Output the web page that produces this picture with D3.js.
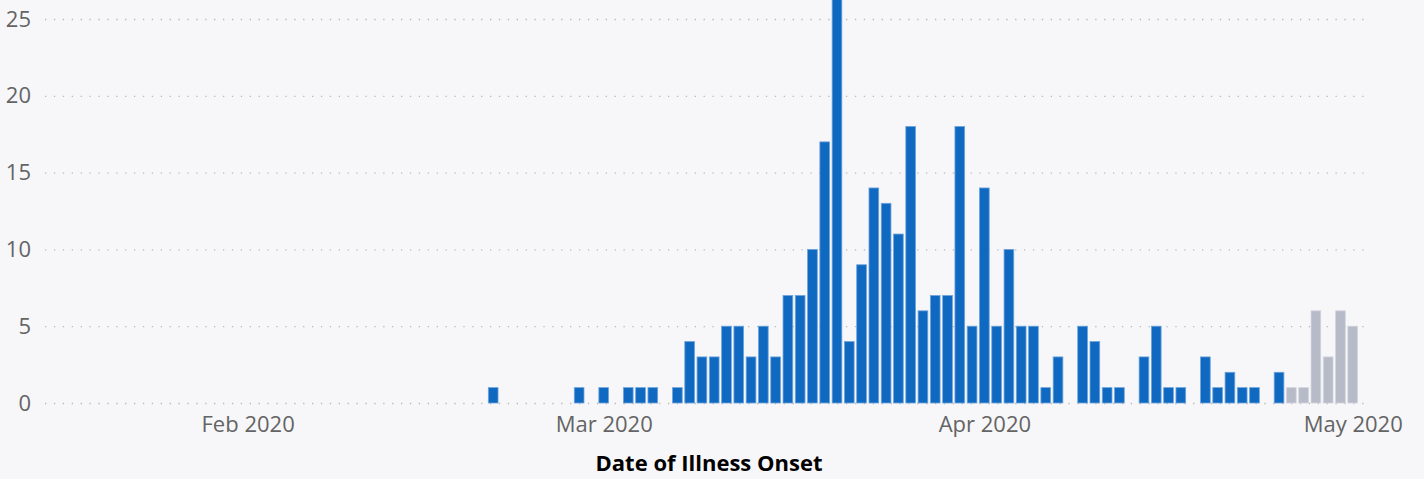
<!DOCTYPE html>
<meta charset="utf-8">
<style>
  body { margin: 0; background: #f7f7fa; overflow: hidden; }
  svg { display: block; }
  .tick text { font-family: "Open Sans", sans-serif; font-size: 22px; fill: #646464; }
  .title { font-family: "Open Sans", sans-serif; font-size: 22px; font-weight: bold; fill: #000; }
</style>
<body>
<div id="chart"></div>
<script src="https://cdn.jsdelivr.net/npm/d3@7"></script>
<script>
    // daily case counts by date of illness onset
    const confirmedDates = ["2020-02-21", "2020-02-28", "2020-03-01", "2020-03-03", "2020-03-04", "2020-03-05",
        "2020-03-07", "2020-03-08", "2020-03-09", "2020-03-10", "2020-03-11", "2020-03-12", "2020-03-13",
        "2020-03-14", "2020-03-15", "2020-03-16", "2020-03-17", "2020-03-18", "2020-03-19", "2020-03-20",
        "2020-03-21", "2020-03-22", "2020-03-23", "2020-03-24", "2020-03-25", "2020-03-26", "2020-03-27",
        "2020-03-28", "2020-03-29", "2020-03-30", "2020-03-31", "2020-04-01", "2020-04-02", "2020-04-03",
        "2020-04-04", "2020-04-05", "2020-04-06", "2020-04-07", "2020-04-09", "2020-04-10", "2020-04-11",
        "2020-04-12", "2020-04-14", "2020-04-15", "2020-04-16", "2020-04-17", "2020-04-19", "2020-04-20",
        "2020-04-21", "2020-04-22", "2020-04-23", "2020-04-25"];
    const confirmedCounts = [1, 1, 1, 1, 1, 1,
        1, 4, 3, 3, 5, 5, 3,
        5, 3, 7, 7, 10, 17, 28,
        4, 9, 14, 13, 11, 18, 6,
        7, 7, 18, 5, 14, 5, 10,
        5, 5, 1, 3, 5, 4, 1,
        1, 3, 5, 1, 1, 3, 1,
        2, 1, 1, 2];
    // recent days, still incomplete (grey)
    const pendingDates = ["2020-04-26", "2020-04-27", "2020-04-28", "2020-04-29", "2020-04-30", "2020-05-01"];
    const pendingCounts = [1, 1, 6, 3, 6, 5];

    const yTicks = [0, 5, 10, 15, 20, 25];
    const xTicks = ["2020-02-01", "2020-03-01", "2020-04-01", "2020-05-01"];

    const width = 1424, height = 479;
    const margin = {top: 19, right: 59, bottom: 76, left: 45};
    const parse = d3.utcParse("%Y-%m-%d");

    let data = confirmedDates.map((d, i) => ({date: parse(d), value: confirmedCounts[i], pending: false}))
        .concat(pendingDates.map((d, i) => ({date: parse(d), value: pendingCounts[i], pending: true})));

    let x = d3.scaleUtc()
        .domain([new Date(Date.UTC(2020, 0, 15, 12)), new Date(Date.UTC(2020, 4, 2))])
        .range([margin.left, width - margin.right]);
    // 25 sits at the top edge, higher values run off the picture
    let y = d3.scaleLinear()
        .domain([0, 25])
        .range([height - margin.bottom, margin.top]);

    const dayWidth = x(parse("2020-01-02")) - x(parse("2020-01-01"));
    const barWidth = dayWidth * 0.79;

    const svg = d3.create("svg")
        .attr("width", width)
        .attr("height", height);

    // dotted gridlines + y labels
    svg.append("g")
        .attr("transform", `translate(${margin.left},0)`)
        .call(d3.axisLeft(y).tickValues(yTicks).tickSize(-(width - margin.left - margin.right)).tickPadding(14))
        .call(g => g.select(".domain").remove())
        .call(g => g.selectAll(".tick line")
            .attr("stroke", "#b9b9b9")
            .attr("stroke-width", 1.3)
            .attr("stroke-dasharray", "1.3 7.6"));

    svg.append("g")
        .selectAll("rect")
        .data(data)
        .join("rect")
            .attr("x", d => x(d.date) - barWidth / 2)
            .attr("width", barWidth)
            .attr("y", d => y(d.value))
            .attr("height", d => y(0) - y(d.value))
            .attr("fill", d => d.pending ? "#b7bac7" : "#0f69c1")
            .attr("stroke", d => d.pending ? "#d3d5dd" : "#6fa3da")
            .attr("stroke-width", 0.8);

    svg.append("g")
        .attr("transform", `translate(0,${height - margin.bottom})`)
        .call(d3.axisBottom(x).tickValues(xTicks.map(parse)).tickFormat(d3.utcFormat("%b %Y")).tickSize(0).tickPadding(13))
        .call(g => g.select(".domain").remove());

    svg.append("text")
        .attr("class", "title")
        .attr("x", (margin.left + width - margin.right) / 2 + 4)
        .attr("y", 471)
        .attr("text-anchor", "middle")
        .text("Date of Illness Onset");

    document.getElementById("chart").appendChild(svg.node());
</script>
</body>
